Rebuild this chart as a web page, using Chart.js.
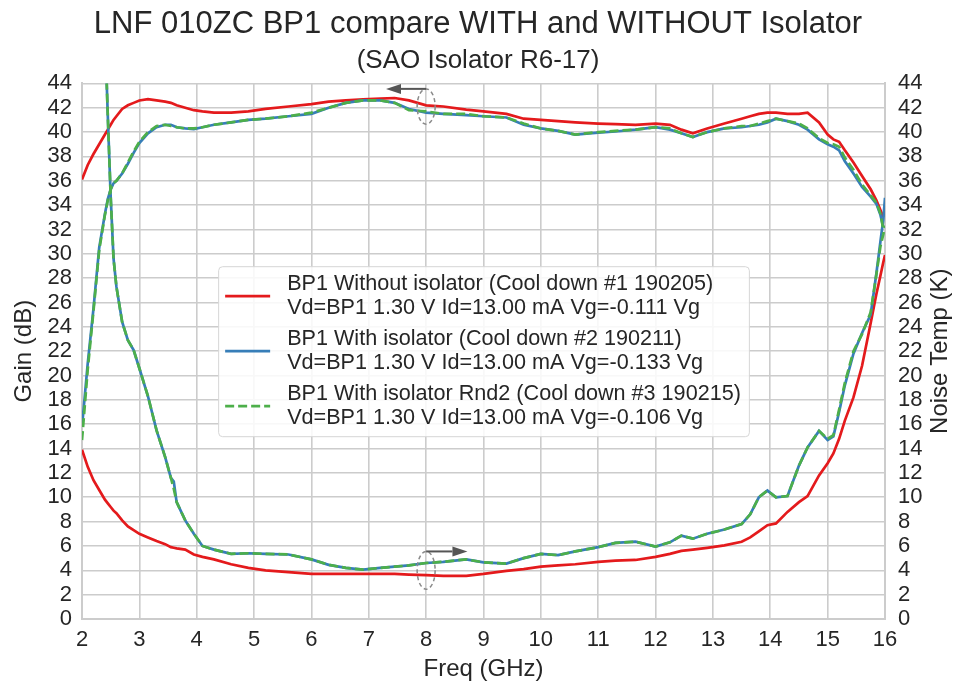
<!DOCTYPE html>
<html>
<head>
<meta charset="utf-8">
<title>LNF 010ZC BP1 isolator comparison</title>
<script src="https://cdn.jsdelivr.net/npm/chart.js@4.4.1/dist/chart.umd.min.js"></script>
<style>
    body { margin: 0; background: #ffffff; }
    #wrap { width: 956px; height: 686px; }
</style>
</head>
<body>
<div id="wrap"><canvas id="lnfChart" width="956" height="686"></canvas></div>
<script>
// Frequency points (GHz) shared by all traces
const freqGHz = [
    2.0, 2.1, 2.2, 2.3, 2.4, 2.45, 2.5, 2.55, 2.6, 2.7, 2.8, 2.9,
    3.0, 3.15, 3.3, 3.45, 3.55, 3.6, 3.65, 3.8, 3.95, 4.1, 4.3, 4.6,
    4.9, 5.2, 5.6, 6.0, 6.3, 6.6, 6.9, 7.2, 7.45, 7.7, 8.0, 8.3,
    8.7, 9.0, 9.4, 9.7, 10.0, 10.3, 10.6, 11.0, 11.3, 11.65, 12.0, 12.25,
    12.45, 12.65, 12.9, 13.2, 13.5, 13.65, 13.8, 13.95, 14.1, 14.3, 14.5, 14.65,
    14.85, 15.0, 15.1, 15.2, 15.3, 15.45, 15.6, 15.75, 15.85, 15.92, 15.97, 16.0
];

// Gain (dB)
const gainNoIso = [
    36.1, 37.3, 38.2, 39.0, 39.8, 40.2, 40.6, 41.0, 41.3, 41.9, 42.2, 42.4,
    42.6, 42.7, 42.6, 42.5, 42.4, 42.3, 42.2, 42.0, 41.8, 41.7, 41.6, 41.6,
    41.7, 41.9, 42.1, 42.3, 42.5, 42.6, 42.7, 42.75, 42.8, 42.6, 42.2, 42.1,
    41.85, 41.7, 41.5, 41.1, 41.0, 40.9, 40.8, 40.7, 40.65, 40.6, 40.7, 40.6,
    40.2, 39.9, 40.3, 40.7, 41.1, 41.3, 41.5, 41.6, 41.6, 41.5, 41.5, 41.6,
    40.8, 39.8, 39.4, 39.2, 38.5, 37.5, 36.4, 35.3, 34.4, 33.6, 33.0, null
];
const gainIso1 = [
    15.8, 21.0, 25.5, 30.5, 33.3, 34.5, 35.3, 35.8, 36.0, 36.6, 37.4, 38.3,
    39.1, 39.9, 40.4, 40.6, 40.6, 40.5, 40.4, 40.3, 40.25, 40.4, 40.6, 40.8,
    41.0, 41.1, 41.3, 41.5, 42.0, 42.4, 42.6, 42.6, 42.4, 41.9, 41.6, 41.5,
    41.4, 41.3, 41.2, 40.6, 40.3, 40.1, 39.8, 39.95, 40.05, 40.2, 40.4, 40.2,
    39.9, 39.6, 40.0, 40.3, 40.4, 40.5, 40.6, 40.8, 41.1, 40.9, 40.6, 40.2,
    39.4, 39.0, 38.8, 38.5, 37.6, 36.6, 35.5, 34.7, 34.1, 33.2, 32.2, null
];
const gainIso2 = [
    14.7, 20.5, 25.3, 30.3, 33.2, 34.4, 35.3, 35.8, 36.0, 36.6, 37.5, 38.4,
    39.2, 40.0, 40.5, 40.6, 40.5, 40.5, 40.4, 40.3, 40.3, 40.4, 40.6, 40.8,
    41.0, 41.1, 41.3, 41.6, 42.0, 42.4, 42.6, 42.6, 42.4, 41.8, 41.7, 41.5,
    41.5, 41.3, 41.2, 40.7, 40.3, 40.1, 39.8, 40.0, 40.1, 40.2, 40.4, 40.3,
    39.9, 39.6, 40.0, 40.3, 40.5, 40.5, 40.7, 40.9, 41.1, 40.9, 40.7, 40.3,
    39.5, 39.1, 39.0, 38.8, 37.9, 36.9, 35.7, 34.8, 34.2, 33.3, 32.0, null
];

// Noise temperature (K)
const noiseNoIso = [
    13.9, 12.5, 11.4, 10.6, 9.8, 9.5, 9.2, 8.9, 8.7, 8.1, 7.6, 7.3,
    7.0, 6.7, 6.4, 6.15, 5.9, 5.85, 5.8, 5.7, 5.3, 5.1, 4.9, 4.5,
    4.2, 4.0, 3.85, 3.7, 3.7, 3.7, 3.7, 3.7, 3.7, 3.65, 3.6, 3.55,
    3.55, 3.7, 3.95, 4.1, 4.3, 4.4, 4.5, 4.7, 4.8, 4.85, 5.1, 5.35,
    5.6, 5.7, 5.85, 6.05, 6.35, 6.7, 7.2, 7.7, 7.85, 8.8, 9.6, 10.1,
    11.8, 12.8, 13.6, 14.8, 16.3, 18.2, 20.8, 24.3, 26.7, 28.2, 29.3, 29.9
];
const noiseIso1 = [
    null, null, null, null, 48.5, 41.3, 34.7, 29.6, 27.3, 24.4, 22.9, 22.1,
    20.6, 18.3, 15.5, 13.3, 11.6, 11.3, 9.6, 8.1, 7.0, 6.0, 5.7, 5.35,
    5.4, 5.35, 5.3, 4.9, 4.45, 4.2, 4.05, 4.2, 4.3, 4.4, 4.6, 4.7,
    4.9, 4.65, 4.55, 5.0, 5.35, 5.25, 5.55, 5.9, 6.25, 6.35, 5.95, 6.3,
    6.85, 6.6, 7.0, 7.35, 7.8, 8.6, 10.0, 10.55, 10.0, 10.1, 12.6, 14.1,
    15.45, 14.7, 15.0, 17.0, 19.2, 21.8, 23.5, 25.0, 28.4, 31.0, 32.8, 34.6
];
const noiseIso2 = [
    null, null, null, null, 48.5, 41.3, 34.7, 29.6, 27.3, 24.4, 22.9, 22.1,
    20.6, 18.3, 15.5, 13.3, 11.6, 10.7, 9.6, 8.1, 7.0, 6.0, 5.7, 5.35,
    5.4, 5.35, 5.3, 4.9, 4.45, 4.2, 4.05, 4.2, 4.3, 4.4, 4.6, 4.7,
    4.9, 4.65, 4.55, 5.0, 5.35, 5.25, 5.55, 5.9, 6.25, 6.35, 5.95, 6.3,
    6.85, 6.6, 7.0, 7.35, 7.8, 8.6, 10.0, 10.55, 10.0, 10.1, 12.6, 14.1,
    15.45, 14.8, 15.1, 17.2, 19.4, 22.0, 23.4, 25.2, 28.3, 30.6, 31.6, 32.3
];

// Legend text, two lines per cool down
const legendLabels = [
    ["BP1 Without isolator (Cool down #1 190205)", "Vd=BP1 1.30 V Id=13.00 mA Vg=-0.111 Vg"],
    ["BP1 With isolator (Cool down #2 190211)", "Vd=BP1 1.30 V Id=13.00 mA Vg=-0.133 Vg"],
    ["BP1 With isolator Rnd2 (Cool down #3 190215)", "Vd=BP1 1.30 V Id=13.00 mA Vg=-0.106 Vg"]
];

// Axis pointers: which curve group belongs to which axis
const gainPointer = { freq: 8, center: 42.1, half: 1.45, tip: 7.3 };
const noisePointer = { freq: 8, center: 4.0, half: 1.55, tip: 8.72 };

const FONT = "'Liberation Sans', Arial, Helvetica, sans-serif";
const TEXT = "#262626";
const GRID = "#cccccc";
const RED = "#e41a1c", BLUE = "#377eb8", GREEN = "#4daf4a";

Chart.defaults.font.family = FONT;
Chart.defaults.color = TEXT;

function toPoints(values) {
    return freqGHz.map((f, i) => ({ x: f, y: values[i] }));
}

function lineSet(values, color, axis, order, dash) {
    return {
        data: toPoints(values),
        yAxisID: axis,
        borderColor: color,
        borderWidth: 2.7,
        borderDash: dash || [],
        pointRadius: 0,
        tension: 0,
        fill: false,
        order: order
    };
}

// dashed ellipse round the curves plus an arrow toward their axis
function drawPointer(ctx, xs, ys, p) {
    const cx = xs.getPixelForValue(p.freq);
    const cy = ys.getPixelForValue(p.center);
    const ry = Math.abs(ys.getPixelForValue(p.center + p.half) - cy);
    const top = cy - ry;
    const tip = xs.getPixelForValue(p.tip);
    const dir = Math.sign(tip - cx);
    const head = 15;

    ctx.save();
    ctx.strokeStyle = "#8a8a8a";
    ctx.lineWidth = 1.5;
    ctx.setLineDash([4, 3]);
    ctx.beginPath();
    ctx.ellipse(cx, cy, 9, ry, 0, 0, Math.PI * 2);
    ctx.stroke();

    ctx.setLineDash([]);
    ctx.strokeStyle = "#555555";
    ctx.fillStyle = "#555555";
    ctx.lineWidth = 2;
    ctx.beginPath();
    ctx.moveTo(cx, top);
    ctx.lineTo(tip - dir * head, top);
    ctx.stroke();
    ctx.beginPath();
    ctx.moveTo(tip, top);
    ctx.lineTo(tip - dir * head, top - 5);
    ctx.lineTo(tip - dir * head, top + 5);
    ctx.closePath();
    ctx.fill();
    ctx.restore();
}

const pointerPlugin = {
    id: "axisPointers",
    afterDatasetsDraw(chart) {
        const { ctx, scales } = chart;
        drawPointer(ctx, scales.x, scales.y, gainPointer);
        drawPointer(ctx, scales.x, scales.y2, noisePointer);
    }
};

// legend box in the middle of the plot, two text lines per entry
const boxLegendPlugin = {
    id: "boxLegend",
    afterDatasetsDraw(chart) {
        const { ctx, chartArea } = chart;
        ctx.save();
        ctx.font = "21.6px " + FONT;
        const textW = Math.max(...legendLabels.flat().map(t => ctx.measureText(t).width));
        const w = 69 + textW + 8;
        const h = 170;
        const left = (chartArea.left + chartArea.right) / 2 - w / 2;
        const top = (chartArea.top + chartArea.bottom) / 2 - h / 2;

        ctx.fillStyle = "rgba(255,255,255,0.85)";
        ctx.strokeStyle = "#d6d6d6";
        ctx.lineWidth = 1;
        ctx.beginPath();
        ctx.roundRect(left + 0.5, top + 0.5, w, h, 4);
        ctx.fill();
        ctx.stroke();

        legendLabels.forEach((lines, i) => {
            const ds = chart.data.datasets[i];
            const y0 = top + 18 + i * 55;
            ctx.strokeStyle = ds.borderColor;
            ctx.lineWidth = ds.borderWidth;
            ctx.setLineDash(ds.borderDash);
            ctx.beginPath();
            ctx.moveTo(left + 7, y0 + 12);
            ctx.lineTo(left + 52, y0 + 12);
            ctx.stroke();
            ctx.setLineDash([]);
            ctx.fillStyle = TEXT;
            ctx.textBaseline = "middle";
            ctx.textAlign = "left";
            lines.forEach((t, j) => ctx.fillText(t, left + 69, y0 + j * 24));
        });
        ctx.restore();
    }
};

// right axis title reads bottom-to-top like the left one
const rightTitlePlugin = {
    id: "rightTitle",
    afterDraw(chart) {
        const { ctx, chartArea } = chart;
        ctx.save();
        ctx.translate(940, (chartArea.top + chartArea.bottom) / 2);
        ctx.rotate(-Math.PI / 2);
        ctx.font = "24px " + FONT;
        ctx.fillStyle = TEXT;
        ctx.textAlign = "center";
        ctx.textBaseline = "middle";
        ctx.fillText("Noise Temp (K)", 0, 0);
        ctx.restore();
    }
};

const ctx = document.getElementById("lnfChart").getContext("2d");
new Chart(ctx, {
    type: "line",
    data: {
        datasets: [
            lineSet(gainNoIso, RED, "y", 2),
            lineSet(gainIso1, BLUE, "y", 1),
            lineSet(gainIso2, GREEN, "y", 0, [9, 4]),
            lineSet(noiseNoIso, RED, "y2", 2),
            lineSet(noiseIso1, BLUE, "y2", 1),
            lineSet(noiseIso2, GREEN, "y2", 0, [9, 4])
        ]
    },
    options: {
        responsive: false,
        animation: false,
        events: [],
        layout: { padding: 0 },
        plugins: {
            legend: { display: false },
            tooltip: { enabled: false },
            title: {
                display: true,
                text: "LNF 010ZC BP1 compare WITH and WITHOUT Isolator",
                color: TEXT,
                font: { size: 31, weight: "normal" },
                padding: { top: 6, bottom: 2 }
            },
            subtitle: {
                display: true,
                text: "(SAO Isolator R6-17)",
                color: TEXT,
                font: { size: 26, weight: "normal" },
                padding: { top: 0, bottom: 7 }
            }
        },
        scales: {
            x: {
                type: "linear",
                min: 2,
                max: 16,
                ticks: { stepSize: 1, padding: 8, color: TEXT, font: { size: 22 } },
                grid: { color: GRID, lineWidth: 1.6, drawTicks: false },
                border: { color: GRID, width: 2 },
                title: {
                    display: true,
                    text: "Freq (GHz)",
                    color: TEXT,
                    font: { size: 24 },
                    padding: { top: 0, bottom: 2 }
                },
                afterFit(scale) { scale.height = 67; }
            },
            y: {
                position: "left",
                min: 0,
                max: 44,
                ticks: { stepSize: 2, autoSkip: false, padding: 10, color: TEXT, font: { size: 22 } },
                grid: { color: GRID, lineWidth: 1.6, drawTicks: false },
                border: { color: GRID, width: 2 },
                title: {
                    display: true,
                    text: "Gain (dB)",
                    color: TEXT,
                    font: { size: 24 },
                    padding: { top: 10, bottom: 0 }
                },
                afterFit(scale) { scale.width = 82; }
            },
            y2: {
                position: "right",
                min: 0,
                max: 44,
                ticks: { stepSize: 2, autoSkip: false, padding: 13, color: TEXT, font: { size: 22 } },
                grid: { drawOnChartArea: false, drawTicks: false },
                border: { color: GRID, width: 2 },
                afterFit(scale) { scale.width = 71; }
            }
        }
    },
    plugins: [pointerPlugin, boxLegendPlugin, rightTitlePlugin]
});
</script>
</body>
</html>
